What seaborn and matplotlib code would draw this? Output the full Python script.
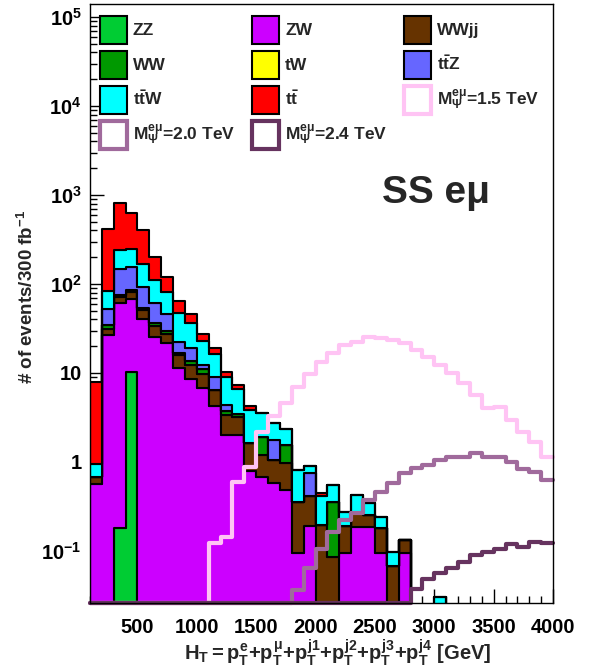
import numpy as np
import pandas as pd
import matplotlib
matplotlib.use("Agg")
import matplotlib.pyplot as plt
from matplotlib.patches import Patch
from matplotlib.ticker import LogLocator, NullFormatter, FixedLocator
import seaborn as sns

# ---------------- data (HT bins of 100 GeV, 100 -> 4000 GeV) ----------------
bin_edges = np.arange(100, 4001, 100)
bin_centers = bin_edges[:-1] + 50
nb = len(bin_centers)
edges_list = [float(e) for e in bin_edges]

# background contributions per bin (events / 300 fb^-1); missing trailing bins are empty
zz   = [0, 0, 0.18, 10.3]
zw   = [0.57, 27, 60.8, 57, 40.5, 25.5, 21.5, 11.4, 8.5, 6.8, 4.2, 2.0, 2.0, 0.8, 0.68,
        0.58, 0.48, 0.094, 0.19, 0, 0, 0.094, 0.187, 0.187, 0.094, 0, 0.094]
wwjj = [0.11, 4.5, 11, 13.5, 11, 8.2, 6.1, 4.5, 3.9, 3.0, 2.2, 1.37, 1.2, 0.85, 0.52,
        0.47, 0.49, 0.264, 0.22, 0.196, 0.085, 0.096, 0.078, 0.067, 0.086, 0.067, 0.039]
ww   = [0, 3.0, 3.5, 4.0, 2.5, 3.0, 2.4, 0.8, 1.3, 1.2, 0, 0.33, 0.3, 0, 0.72, 0, 0.58,
        0, 0, 0, 0.273]
tw   = [0]
ttz  = [0, 17.5, 72.5, 68.5, 39, 23.8, 16, 5.8, 5.3, 1.2, 2.6, 0.67, 0, 0, 0, 0.72, 0,
        0, 0.34]
ttw  = [0.27, 31, 93, 93, 74, 51.5, 35.5, 24.5, 17, 10.8, 7.4, 4.6, 3.1, 2.15, 1.6, 1.0,
        0.78, 0.45, 0.14, 0.22, 0.19, 0.087, 0.16, 0.089, 0.063, 0.031, 0, 0, 0, 0.030]
tt   = [7.05, 337, 566, 380, 233, 89, 39.5, 17.5, 10.5, 4.3, 2.9, 1.2, 0.7, 0.5, 0, 0,
        0, 0, 0, 0.035]

# signal histograms
sig15 = [0] * 10 + [0.122, 0.142, 0.60, 0.885, 2.15, 3.3, 4.57, 7.0, 9.7, 13.4, 16.6,
                    20.7, 22.5, 25.6, 24.5, 23.5, 21.5, 18.1, 15.2, 12.3, 9.9, 7.66,
                    5.66, 4.0, 4.18, 2.96, 2.19, 1.69, 1.15]
sig20 = [0] * 17 + [0.0365, 0.064, 0.105, 0.165, 0.223, 0.269, 0.374, 0.464, 0.575,
                    0.746, 0.85, 0.925, 1.05, 1.15, 1.15, 1.25, 1.15, 1.15, 1.0, 0.84,
                    0.78, 0.63]
sig24 = [0] * 27 + [0.037, 0.049, 0.056, 0.064, 0.076, 0.090, 0.098, 0.105, 0.12,
                    0.112, 0.127, 0.124]

bkg_names  = ["ZZ", "ZW", "WWjj", "WW", "tW", "ttZ", "ttW", "tt"]
bkg_vals   = [zz, zw, wwjj, ww, tw, ttz, ttw, tt]
bkg_colors = ["#00cc33", "#cc00ff", "#663300", "#009900", "#ffff00", "#6666ff",
              "#00ffff", "#ff0000"]
bkg_labels = ["ZZ", "ZW", "WWjj", "WW", "tW", r"t$\bar{t}$Z", r"t$\bar{t}$W",
              r"t$\bar{t}$"]

sig_vals   = [sig15, sig20, sig24]
sig_colors = ["#ffc4f4", "#a06a9c", "#66335f"]
sig_labels = [r"M$_{\Psi}^{e\mu}$=1.5 TeV", r"M$_{\Psi}^{e\mu}$=2.0 TeV",
              r"M$_{\Psi}^{e\mu}$=2.4 TeV"]

YMIN, YMAX = 0.026, 1.4e5


def full(v):
    a = np.zeros(nb)
    a[:len(v)] = v
    return a


# ---------------- style ----------------
sns.set_style("white")
plt.rcParams["font.family"] = ["Liberation Sans", "DejaVu Sans"]
plt.rcParams["font.weight"] = "bold"
plt.rcParams["mathtext.fontset"] = "custom"
plt.rcParams["mathtext.rm"] = "Liberation Sans:bold"
plt.rcParams["mathtext.it"] = "Liberation Sans:bold"
plt.rcParams["mathtext.bf"] = "Liberation Sans:bold"
plt.rcParams["mathtext.sf"] = "Liberation Sans:bold"

W, H = 592, 670
fig = plt.figure(figsize=(W / 100, H / 100), dpi=100)
ax = fig.add_axes([90 / W, (H - 603) / H, 463 / W, 599 / H])
ax.set_yscale("log")

# ---------------- stacked backgrounds ----------------
df = pd.DataFrame({
    "HT": np.tile(bin_centers, len(bkg_names)),
    "proc": np.repeat(bkg_names, nb),
    "w": np.concatenate([full(v) for v in bkg_vals]),
})
pal = dict(zip(bkg_names, bkg_colors))
sns.histplot(data=df, x="HT", weights="w", hue="proc",
             hue_order=bkg_names[::-1], palette=pal, multiple="stack",
             element="step", bins=edges_list, edgecolor="black", linewidth=1.5,
             alpha=1, legend=False, ax=ax)

# ---------------- signals ----------------
for vals, col in zip(sig_vals, sig_colors):
    disp = np.clip(full(vals), YMIN, None)
    sns.histplot(x=bin_centers, weights=disp, bins=edges_list, element="step",
                 fill=False, color=col, linewidth=3.0, clip_on=False, ax=ax)

# ---------------- axes ----------------
ax.set_xlim(100, 4000)
ax.set_ylim(YMIN, YMAX)
ax.set_xlabel("")
ax.set_ylabel("")
ax.set_xticks(np.arange(500, 4001, 500))
ax.set_xticklabels([str(v) for v in range(500, 4001, 500)])
ax.xaxis.set_minor_locator(FixedLocator(np.arange(100, 4001, 100)))
ax.set_yticks([1e-1, 1, 10, 1e2, 1e3, 1e4, 1e5])
ax.set_yticklabels([r"$10^{-1}$", "1", "10", r"$10^{2}$", r"$10^{3}$", r"$10^{4}$",
                    r"$10^{5}$"])
ax.yaxis.set_minor_locator(LogLocator(base=10, subs=np.arange(2, 10)))
ax.yaxis.set_minor_formatter(NullFormatter())
ax.tick_params(axis="both", which="both", bottom=True, left=True, top=False,
               right=False, direction="in", color="black")
ax.tick_params(axis="both", which="major", length=10, width=1,
               labelsize=14.5, labelcolor="black")
ax.tick_params(axis="both", which="minor", length=5, width=1)
ax.tick_params(axis="y", which="major", pad=6)
ax.tick_params(axis="x", which="major", pad=11)
for lab in ax.get_xticklabels() + ax.get_yticklabels():
    lab.set_fontweight("bold")
for s in ax.spines.values():
    s.set_color("black")
    s.set_linewidth(1)

# ---------------- legend (ROOT row-major order in 3 columns) ----------------
bh = [Patch(facecolor=c, edgecolor="black", linewidth=1.5) for c in bkg_colors]
sh = [Patch(facecolor="white", edgecolor=c, linewidth=3) for c in sig_colors]
all_h = bh + sh
all_l = bkg_labels + sig_labels
order = [0, 3, 6, 9, 1, 4, 7, 10, 2, 5, 8]
leg = ax.legend([all_h[i] for i in order], [all_l[i] for i in order], ncol=3,
                loc="upper left", bbox_to_anchor=(100 / W, 1 - 16 / H),
                bbox_transform=fig.transFigure, frameon=False,
                prop={"size": 12.5, "weight": "bold"}, handlelength=1.55,
                handleheight=2.1, handletextpad=0.35, columnspacing=0.98,
                labelspacing=0.4, borderpad=0, borderaxespad=0)
leg.set_zorder(10)

# ---------------- texts ----------------
fig.text(436 / W, 1 - 203 / H, "SS e\u03bc", ha="center", va="baseline",
         fontsize=28, fontweight="bold")
fig.text(27 / W, 1 - 297 / H, r"# of events/300 fb$^{-1}$", rotation=90,
         ha="center", va="center", fontsize=13.5, fontweight="bold")
fig.text(338 / W, 1 - 653 / H,
         r"$H_{T}{=}p_{T}^{e}{+}p_{T}^{\mu}{+}p_{T}^{j1}{+}p_{T}^{j2}{+}p_{T}^{j3}{+}p_{T}^{j4}$ [GeV]",
         ha="center", va="center", fontsize=14.5, fontweight="bold")

fig.savefig("out.png", dpi=100)
